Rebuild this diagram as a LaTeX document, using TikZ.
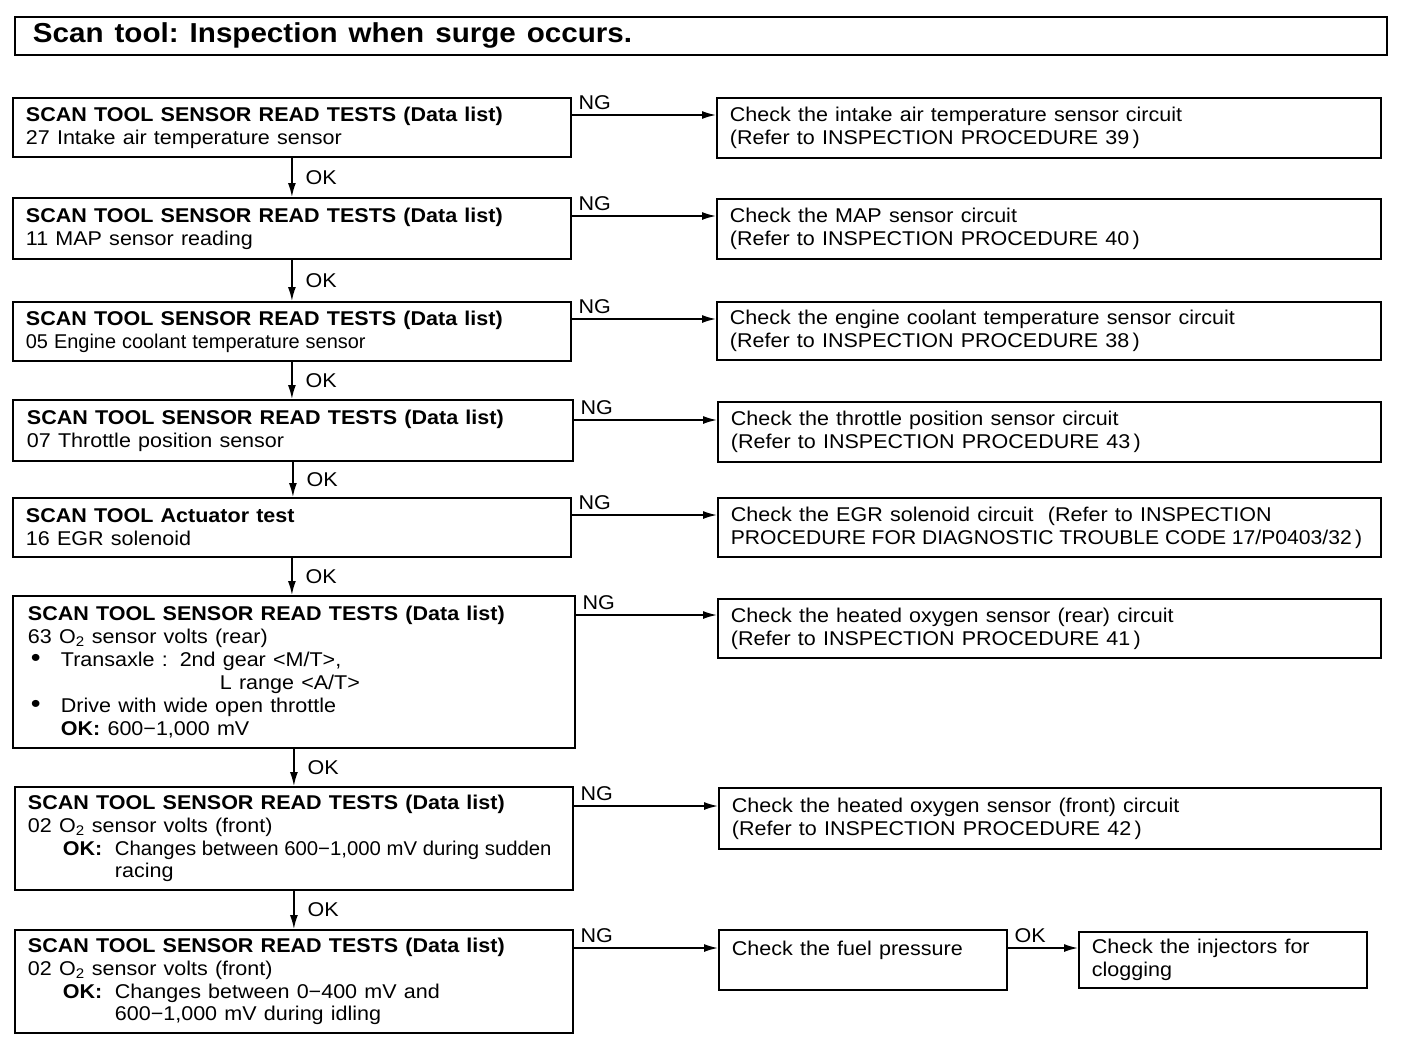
\documentclass[tikz,border=0pt]{standalone}
\usepackage{fontspec}
\setmainfont{Liberation Sans}[FakeStretch=1.08]
\newfontfamily\condfont{Liberation Sans}[FakeStretch=1.02]
\newfontfamily\egrfont{Liberation Sans}[FakeStretch=1.06]
\newfontfamily\tightfont{Liberation Sans}
\usetikzlibrary{arrows.meta}
\frenchspacing
\newcommand\widesp{\spaceskip=7.2bp plus 2bp minus 1bp\relax}
\newcommand\titlesp{\spaceskip=11bp plus 2bp minus 1bp\relax}
\begin{document}
\begin{tikzpicture}[x=1bp,y=-1bp,
  box/.style={draw, line width=1.8bp, anchor=north west, inner xsep=13bp, inner ysep=0pt,
    align=left, font=\fontsize{20}{23}\selectfont, execute at begin node=\widesp},
  lbox/.style={box, minimum width=558bp, text width=532bp},
  rbox/.style={box, minimum width=664bp, text width=638bp},
  arr/.style={line width=1.6bp, -{Latex[length=14bp,width=8bp]}},
  lab/.style={font=\fontsize{20}{23}\selectfont, inner sep=0pt}]
\fill[white] (0,0) rectangle (1408,1052);
\useasboundingbox (0,0) rectangle (1408,1052);
\newcommand\scanhead{\textbf{SCAN TOOL SENSOR READ TESTS (Data list)}}
\newcommand\bul{\hspace*{3bp}\makebox[30bp][l]{\fontsize{26}{23}\selectfont\textbullet}}

% title
\node[box, minimum width=1372bp, minimum height=38bp, text width=1336bp, inner xsep=18bp,
  font=\bfseries\fontsize{27.5}{30}\selectfont, execute at begin node=\titlesp] (title) at (14,16)
  {Scan tool: Inspection when surge occurs.};

% left column
\node[lbox, minimum height=59bp] (l1) at (12,97)
  {\scanhead\\27 Intake air temperature sensor};
\node[lbox, minimum height=61bp] (l2) at (12,197)
  {\scanhead\\11 MAP sensor reading};
\node[lbox, minimum height=59bp] (l3) at (12,301)
  {\scanhead\\{\tightfont\spaceskip=6bp\relax 05 Engine coolant temperature sensor}};
\node[lbox, minimum height=61bp, minimum width=560bp] (l4) at (12,399)
  {\scanhead\\07 Throttle position sensor};
\node[lbox, minimum height=59bp] (l5) at (12,497)
  {\textbf{SCAN TOOL Actuator test}\\16 EGR solenoid};
\node[lbox, minimum height=152bp, minimum width=562bp] (l6) at (12,595)
  {\scanhead\\63 O\textsubscript{2} sensor volts (rear)\\
   \bul Transaxle :\hspace{12bp}2nd gear <M/T>,\\
   \hspace*{192bp}L range <A/T>\\
   \bul Drive with wide open throttle\\
   \hspace*{33bp}\textbf{OK:} 600−1,000 mV};
\node[lbox, minimum height=103bp] (l7) at (14,786)
  {\scanhead\\02 O\textsubscript{2} sensor volts (front)\\
   \hspace*{35bp}\makebox[52bp][l]{\textbf{OK:}}\mbox{\condfont\spaceskip=0pt\relax Changes between 600−1,000 mV during sudden}\\
   \hspace*{87bp}racing};
\node[lbox, minimum height=103bp] (l8) at (14,929)
  {\scanhead\\02 O\textsubscript{2} sensor volts (front)\\
   \hspace*{35bp}\makebox[52bp][l]{\textbf{OK:}}Changes between 0−400 mV and\\
   \hspace*{87bp}600−1,000 mV during idling};

% right column
\node[rbox, minimum height=60bp] (r1) at (716,97)
  {Check the intake air temperature sensor circuit\\(Refer to INSPECTION PROCEDURE 39\,)};
\node[rbox, minimum height=60bp] (r2) at (716,198)
  {Check the MAP sensor circuit\\(Refer to INSPECTION PROCEDURE 40\,)};
\node[rbox, minimum height=58bp] (r3) at (716,301)
  {Check the engine coolant temperature sensor circuit\\(Refer to INSPECTION PROCEDURE 38\,)};
\node[rbox, minimum height=60bp, minimum width=663bp, text width=637bp] (r4) at (717,401)
  {Check the throttle position sensor circuit\\(Refer to INSPECTION PROCEDURE 43\,)};
\node[rbox, minimum height=59bp, minimum width=663bp, text width=637bp] (r5) at (717,497)
  {Check the EGR solenoid circuit\ \ (Refer to INSPECTION\\
   \mbox{\egrfont\spaceskip=0pt\relax PROCEDURE FOR DIAGNOSTIC TROUBLE CODE 17/P0403/32\,)}};
\node[rbox, minimum height=59bp, minimum width=663bp, text width=637bp] (r6) at (717,598)
  {Check the heated oxygen sensor (rear) circuit\\(Refer to INSPECTION PROCEDURE 41\,)};
\node[rbox, minimum height=61bp, minimum width=662bp, text width=636bp] (r7) at (718,787)
  {Check the heated oxygen sensor (front) circuit\\(Refer to INSPECTION PROCEDURE 42\,)};
\node[box, minimum height=60bp, minimum width=288bp, text width=262bp, text depth=24bp] (r8) at (718,929)
  {Check the fuel pressure};
\node[box, minimum height=56bp, minimum width=288bp, text width=262bp] (r9) at (1078,931)
  {Check the injectors for\\clogging};

% NG connectors
\foreach \a/\b/\d in {l1/r1/18, l2/r2/19, l3/r3/18, l4/r4/21, l5/r5/18, l6/r6/20, l7/r7/20, l8/r8/19}{
  \draw[arr] ([yshift=-\d bp]\a.north east) -- ([yshift=-\d bp]\a.north east -| \b.west)
    node[pos=0, anchor=south west, lab, xshift=6bp, yshift=5bp] {NG};
}
% OK connectors
\foreach \a/\b in {l1/l2, l2/l3, l3/l4, l4/l5, l5/l6, l6/l7, l7/l8}{
  \draw[arr] (\a.south) -- (\a.south |- \b.north)
    node[midway, anchor=west, lab, xshift=13bp] {OK};
}
\draw[arr] ([yshift=-19bp]r8.north east) -- ([yshift=-19bp]r8.north east -| r9.west)
  node[pos=0, anchor=south west, lab, xshift=6bp, yshift=5bp] {OK};
\end{tikzpicture}
\end{document}
